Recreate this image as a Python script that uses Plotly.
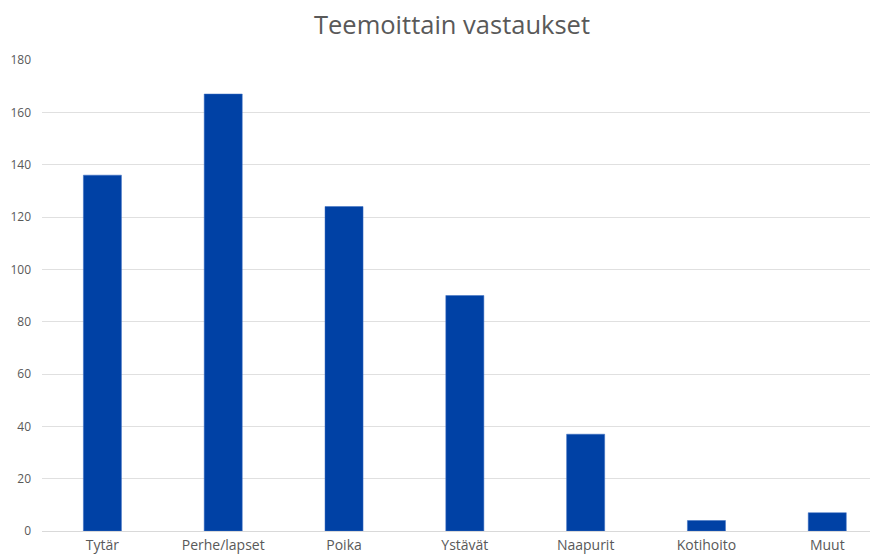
import plotly.graph_objects as go

categories = ["Tytär", "Perhe/lapset", "Poika", "Ystävät", "Naapurit", "Kotihoito", "Muut"]
values = [136, 167, 124, 90, 37, 4, 7]
y_ticks = [0, 20, 40, 60, 80, 100, 120, 140, 160, 180]

# page body has an 8px default margin; figure is sized/offset to compensate
W, H = 870, 550

fig = go.Figure(
    go.Bar(
        x=categories,
        y=values,
        marker=dict(color="#0041A5", line=dict(color="#3d6fc2", width=0.5)),
        width=0.315,
    )
)

fig.update_layout(
    width=W,
    height=H,
    template="none",
    paper_bgcolor="white",
    plot_bgcolor="white",
    margin=dict(l=34, r=0, t=52, b=27, autoexpand=False),
    title=dict(
        text="Teemoittain vastaukset",
        x=444 / W,
        xref="container",
        xanchor="center",
        y=1 - 17 / H,
        yref="container",
        yanchor="middle",
        font=dict(family="Open Sans", size=25.5, color="#595959"),
    ),
    showlegend=False,
)

fig.update_xaxes(
    range=[-0.5, 6.42],
    showgrid=False,
    showline=False,
    ticks="",
    automargin=False,
    ticklabelstandoff=4,
    tickfont=dict(family="Open Sans", size=14, color="#595959"),
)

fig.update_yaxes(
    range=[0, 180],
    tickvals=y_ticks,
    ticktext=[str(v) for v in y_ticks],
    showgrid=True,
    gridcolor="#E0E0E0",
    gridwidth=1,
    zeroline=True,
    zerolinecolor="#D9D9D9",
    zerolinewidth=1,
    showline=False,
    ticks="",
    ticklabelstandoff=10,
    automargin=False,
    tickfont=dict(family="Open Sans", size=12, color="#595959"),
)

fig.write_html("out.html")
